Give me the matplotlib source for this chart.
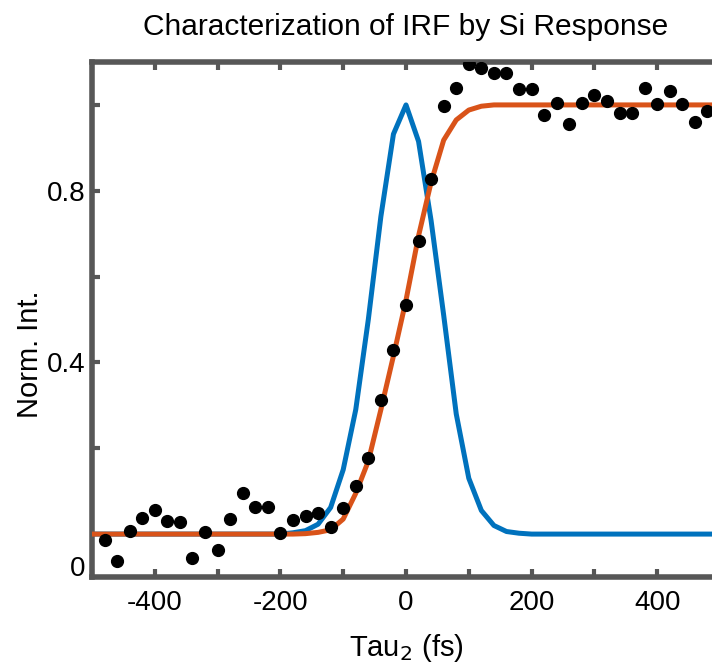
import matplotlib
matplotlib.use('Agg')
import matplotlib.pyplot as plt
import numpy as np

# time axis of the model curves (fs)
t_fit = np.arange(-500, 501, 20)

# instrument response (blue)
irf = [0, 0, 0, 0, 0, 0, 0, 0, 0, 0,
       0, 0, 0, 0, 0, 0.0, 0.003, 0.008, 0.023, 0.062,
       0.150, 0.290, 0.500, 0.740, 0.932, 1.0, 0.915, 0.730, 0.510, 0.280,
       0.130, 0.055, 0.020, 0.006, 0.002, 0.0, 0, 0, 0, 0,
       0, 0, 0, 0, 0, 0, 0, 0, 0, 0, 0]

# fitted step response (orange)
fit = [0, 0, 0, 0, 0, 0, 0, 0, 0, 0,
       0, 0, 0, 0, 0, 0, 0, 0.001, 0.004, 0.010,
       0.035, 0.095, 0.170, 0.290, 0.415, 0.545, 0.695, 0.820, 0.918, 0.965,
       0.988, 0.997, 1.0, 1.0, 1.0, 1.0, 1.0, 1.0, 1.0, 1.0,
       1.0, 1.0, 1.0, 1.0, 1.0, 1.0, 1.0, 1.0, 1.0, 1.0, 1.0]

# measured Si response (black dots)
t_data = np.arange(-480, 481, 20)
si = [-0.013, -0.062, 0.007, 0.037, 0.055, 0.031, 0.028, -0.055, 0.004, -0.037,
      0.035, 0.095, 0.063, 0.063, 0.003, 0.033, 0.041, 0.048, 0.017, 0.061,
      0.112, 0.177, 0.312, 0.428, 0.534, 0.683, 0.827, 0.998, 1.040, 1.096,
      1.087, 1.075, 1.075, 1.036, 1.036, 0.977, 1.004, 0.955, 1.004, 1.023,
      1.008, 0.981, 0.981, 1.039, 1.002, 1.033, 1.002, 0.961, 0.986]

xticks = np.arange(-500, 501, 100)
xticklabels = ['', '-400', '', '-200', '', '0', '', '200', '', '400', '']
yticks = [-0.075, 0.2, 0.4, 0.6, 0.8, 1.0]
yticklabels = ['0', '', '0.4', '', '0.8', '']

plt.rcParams['font.family'] = ['Liberation Sans', 'DejaVu Sans']

fig = plt.figure(figsize=(7.12, 6.68), dpi=100)
ax = fig.add_axes([92 / 712, 91 / 668, 628 / 712, 515 / 668])

ax.plot(t_fit, irf, color='#0072BD', lw=3.6, zorder=2)
ax.plot(t_fit, fit, color='#D95319', lw=3.6, zorder=3)
ax.plot(t_data, si, 'o', color='black', ms=8.5, zorder=4)

ax.set_xlim(-500, 500)
ax.set_ylim(-0.1, 1.1)
ax.set_xticks(xticks)
ax.set_xticklabels(xticklabels)
ax.set_yticks(yticks)
ax.set_yticklabels(yticklabels)

spine_col = '#575757'
for s in ax.spines.values():
    s.set_color(spine_col)
    s.set_linewidth(4)
ax.tick_params(direction='in', length=6, width=3, color=spine_col,
               labelsize=20, labelcolor='black', top=True, right=True)
ax.tick_params(axis='x', pad=9)
ax.tick_params(axis='y', pad=5)
# no mark for the shifted zero label
ax.yaxis.get_major_ticks()[0].tick1line.set_visible(False)
ax.yaxis.get_major_ticks()[0].tick2line.set_visible(False)

fig.text(406 / 712, 1 - 27 / 668, 'Characterization of IRF by Si Response',
         ha='center', va='center', fontsize=21.5)
fig.text(406 / 712, 1 - 648 / 668, 'Tau$_2$ (fs)', ha='center', va='center',
         fontsize=21)
fig.text(30 / 712, 1 - 354 / 668, 'Norm. Int.', ha='center', va='center',
         rotation=90, fontsize=21)

fig.savefig('out.png', dpi=100)
